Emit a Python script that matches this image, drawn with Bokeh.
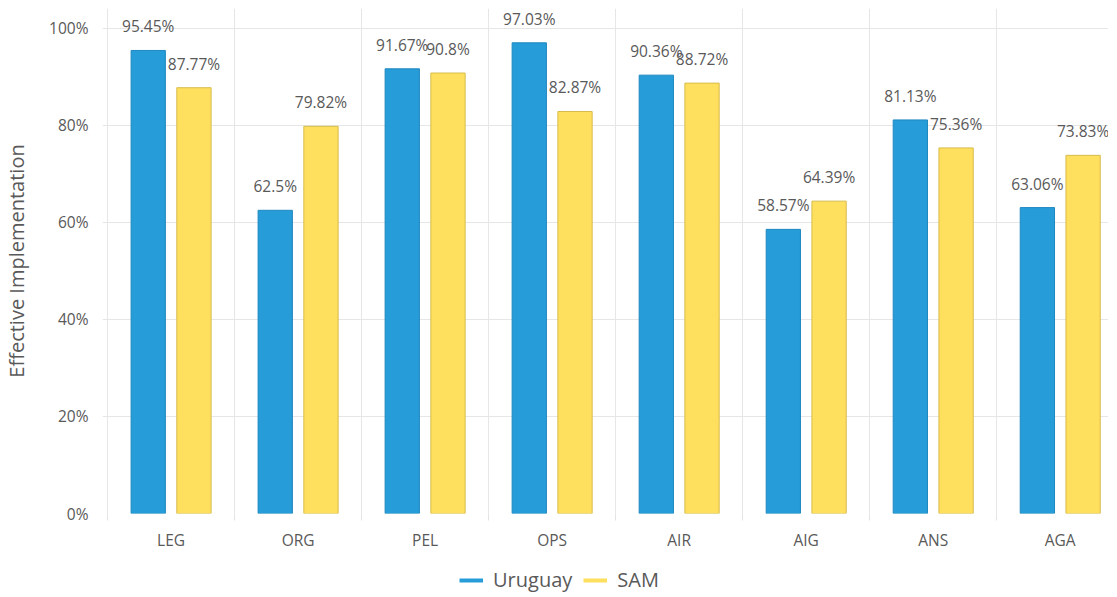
import math
from bokeh.plotting import figure
from bokeh.layouts import column
from bokeh.models import (ColumnDataSource, FixedTicker, Range1d, Legend, LegendItem)
from bokeh.core.properties import value
from bokeh.embed import file_html
from bokeh.resources import INLINE

categories = ["LEG", "ORG", "PEL", "OPS", "AIR", "AIG", "ANS", "AGA"]
uruguay = [95.45, 62.5, 91.67, 97.03, 90.36, 58.57, 81.13, 63.06]
sam = [87.77, 79.82, 90.8, 82.87, 88.72, 64.39, 75.36, 73.83]
series_names = ["Uruguay", "SAM"]
y_ticks = [0, 20, 40, 60, 80, 100]

FONT = "Open Sans"
BLUE = "#269CD8"
BLUE_LINE = "#1F88C0"
YELLOW = "#FFDF5E"
YELLOW_LINE = "#D6BC4C"
TXT = "#595959"

centers = [i + 0.5 for i in range(len(categories))]
bounds = list(range(len(categories) + 1))
off = 0.18
bw = 0.27

src_u = ColumnDataSource(dict(x=[c - off for c in centers], top=uruguay,
                              lab=[f"{v:g}%" for v in uruguay]))
src_s = ColumnDataSource(dict(x=[c + off for c in centers], top=sam,
                              lab=[f"{v:g}%" for v in sam]))

p = figure(frame_width=1006, frame_height=505, output_backend="svg", toolbar_location=None,
           x_range=Range1d(-0.04, 7.88), y_range=Range1d(0, 104.1),
           min_border_left=100, min_border_top=8, min_border_right=0, min_border_bottom=0)
p.outline_line_color = None

p.vbar(x="x", top="top", width=bw, source=src_u, fill_color=BLUE, line_color=BLUE_LINE, line_width=1)
p.vbar(x="x", top="top", width=bw, source=src_s, fill_color=YELLOW, line_color=YELLOW_LINE, line_width=1)

for src in (src_u, src_s):
    p.text(x="x", y="top", text="lab", source=src, text_align="center", text_baseline="middle",
           y_offset=-24, text_font=value(FONT), text_font_size="15.5px", text_color=TXT)

# axes
p.xaxis.ticker = FixedTicker(ticks=centers, minor_ticks=bounds)
p.xaxis.major_label_overrides = {c: cat for c, cat in zip(centers, categories)}
p.xaxis.major_tick_line_color = None
p.xaxis.major_tick_out = 0
p.xaxis.minor_tick_out = 7
p.xaxis.minor_tick_in = 0
p.xaxis.minor_tick_line_color = "#e3e3e3"
p.xaxis.axis_line_color = None
p.xaxis.major_label_standoff = 8
p.xaxis.major_label_text_font = FONT
p.xaxis.major_label_text_font_size = "15.5px"
p.xaxis.major_label_text_color = TXT

p.yaxis.ticker = FixedTicker(ticks=y_ticks)
p.yaxis.major_label_overrides = {t: f"{t}%" for t in y_ticks}
p.yaxis.major_tick_line_color = None
p.yaxis.minor_tick_line_color = None
p.yaxis.axis_line_color = None
p.yaxis.major_label_standoff = 8
p.yaxis.major_label_text_font = FONT
p.yaxis.major_label_text_font_size = "15.5px"
p.yaxis.major_label_text_color = TXT
p.yaxis.axis_label = "Effective Implementation"
p.yaxis.axis_label_text_font = FONT
p.yaxis.axis_label_text_font_size = "20px"
p.yaxis.axis_label_text_font_style = "normal"
p.yaxis.axis_label_text_color = TXT
p.yaxis.axis_label_standoff = 16

p.xgrid.ticker = FixedTicker(ticks=bounds)
p.xgrid.grid_line_color = "#e6e6e6"
p.ygrid.ticker = FixedTicker(ticks=y_ticks)
p.ygrid.grid_line_color = "#e6e6e6"

# legend in a small figure below
lg = figure(width=1106, height=46, output_backend="svg", toolbar_location=None,
            x_range=Range1d(0, 1), y_range=Range1d(0, 1),
            x_axis_location=None, y_axis_location=None,
            min_border_left=0, min_border_right=0, min_border_top=0, min_border_bottom=0)
lg.outline_line_color = None
lg.xgrid.visible = False
lg.ygrid.visible = False
nan = float("nan")
r_u = lg.line(x=[nan], y=[nan], line_color=BLUE, line_width=4)
r_s = lg.line(x=[nan], y=[nan], line_color=YELLOW, line_width=4)
legend = Legend(items=[LegendItem(label=series_names[0], renderers=[r_u]),
                       LegendItem(label=series_names[1], renderers=[r_s])],
                orientation="horizontal", location=(357, 6),
                label_text_font=FONT, label_text_font_size="20px", label_text_color=TXT,
                glyph_width=24, glyph_height=20, label_standoff=10, spacing=11,
                border_line_color=None, background_fill_alpha=0, padding=0, margin=0)
lg.add_layout(legend, "center")

layout = column(p, lg, spacing=0)
open("out.html", "w").write(file_html(layout, INLINE))
